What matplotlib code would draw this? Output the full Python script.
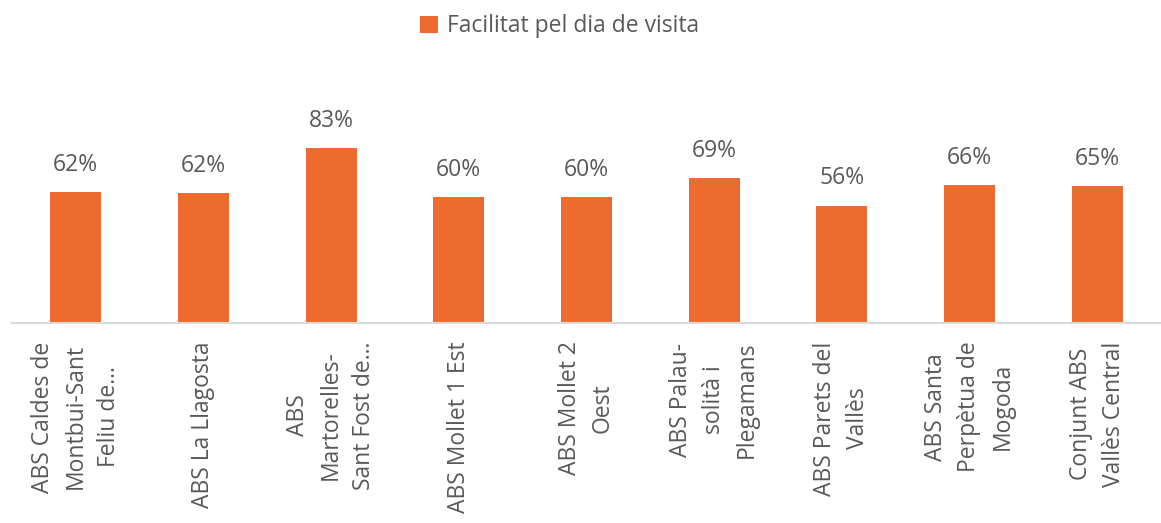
import matplotlib
matplotlib.use('Agg')
import matplotlib.pyplot as plt
import numpy as np

categories = ['ABS Caldes de\nMontbui-Sant\nFeliu de...',
              'ABS La Llagosta',
              'ABS\nMartorelles-\nSant Fost de...',
              'ABS Mollet 1 Est',
              'ABS Mollet 2\nOest',
              'ABS Palau-\nsolità i\nPlegamans',
              'ABS Parets del\nVallès',
              'ABS Santa\nPerpètua de\nMogoda',
              'Conjunt ABS\nVallès Central']
values = [0.621, 0.617, 0.83, 0.595, 0.595, 0.688, 0.556, 0.655, 0.648]
series_name = 'Facilitat pel dia de visita'

ORANGE = '#ED6B2F'
GREY = '#595959'
FS = 16.5

plt.rcParams['font.family'] = ['Open Sans', 'DejaVu Sans']

fig = plt.figure(figsize=(11.61, 5.23), dpi=100)
ax = fig.add_axes([0.0103, 0.382, 0.9897, 0.404])

x = np.arange(len(categories))
bars = ax.bar(x, values, width=0.4, color=ORANGE, label=series_name)
for b, v in zip(bars, values):
    ax.annotate(f'{v:.0%}', (b.get_x() + b.get_width() / 2, v),
                xytext=(0, 11), textcoords='offset points',
                ha='center', va='bottom', fontsize=FS, color=GREY)

ax.set_xlim(-0.5, len(categories) - 0.5)
ax.set_ylim(0, 1)
ax.set_yticks([])
ax.set_xticks(x)
ax.set_xticklabels(categories, rotation=90, ha='center', va='top',
                   multialignment='center', fontsize=FS, color=GREY,
                   linespacing=1.5)
ax.tick_params(axis='x', length=0, pad=13)
for side in ('left', 'right', 'top'):
    ax.spines[side].set_visible(False)
ax.spines['bottom'].set_color('#D9D9D9')
ax.spines['bottom'].set_linewidth(1.5)

fig.legend(handles=[bars], labels=[series_name], loc='center',
           bbox_to_anchor=(0.482, 0.95), frameon=False, fontsize=FS,
           labelcolor=GREY, handlelength=0.75, handleheight=0.75,
           handletextpad=0.4)

fig.savefig('out.png', dpi=100)
